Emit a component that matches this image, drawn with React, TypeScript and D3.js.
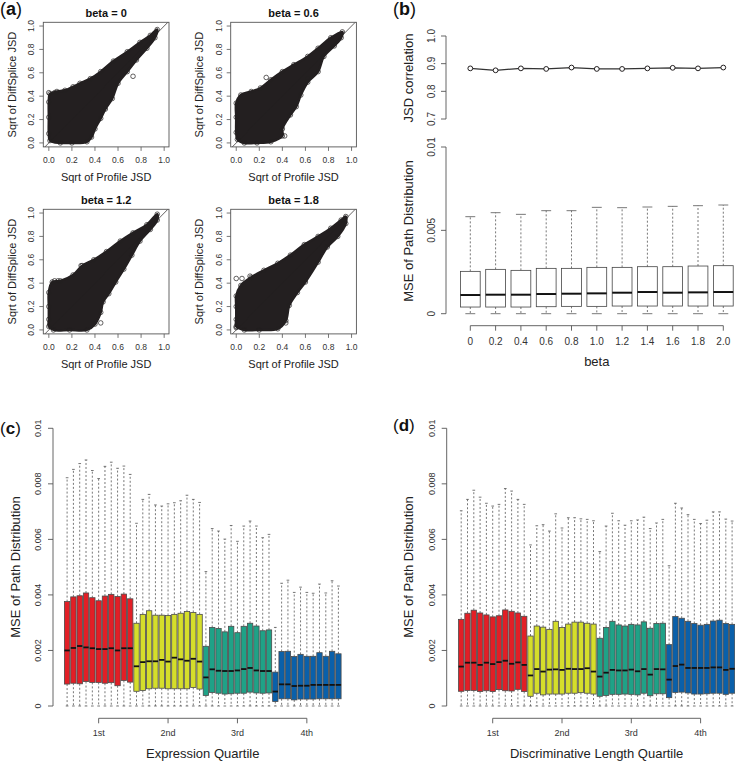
import React from "react";
import * as d3 from "d3";

const FONT = "'Liberation Sans', Arial, Helvetica, sans-serif";

// ---------- Panel (a): scatter envelopes (Sqrt Profile JSD, Sqrt DiffSplice JSD) ----------
const scatterTitles = ["beta = 0", "beta = 0.6", "beta = 1.2", "beta = 1.8"];
const hullBeta0: [number, number][] = [
  [0.0, 0.08], [0.0, 0.22], [0.0, 0.35], [0.01, 0.42], [0.07, 0.44], [0.14, 0.45], [0.21, 0.48], [0.27, 0.51],
  [0.36, 0.55], [0.45, 0.61], [0.56, 0.7], [0.68, 0.78], [0.79, 0.86], [0.88, 0.92], [0.94, 0.97],
  [0.92, 0.9], [0.85, 0.81], [0.76, 0.71], [0.68, 0.61], [0.6, 0.51], [0.55, 0.38], [0.49, 0.29],
  [0.45, 0.21], [0.4, 0.12], [0.37, 0.05], [0.33, 0.01], [0.2, 0.0], [0.1, 0.0], [0.01, 0.02],
];
const outliersBeta0: [number, number][] = [[0.73, 0.57], [0.0, 0.43], [0.05, 0.43]];
const hullBeta06: [number, number][] = [
  [0.0, 0.09], [0.0, 0.22], [0.0, 0.34], [0.04, 0.41], [0.13, 0.44], [0.21, 0.47], [0.3, 0.54], [0.4, 0.61],
  [0.5, 0.67], [0.62, 0.74], [0.71, 0.81], [0.82, 0.9], [0.92, 0.95], [0.91, 0.9], [0.85, 0.83],
  [0.76, 0.74], [0.71, 0.61], [0.62, 0.52], [0.56, 0.41], [0.52, 0.31], [0.47, 0.24], [0.4, 0.12],
  [0.4, 0.06], [0.3, 0.01], [0.18, 0.0], [0.07, 0.0], [0.01, 0.03],
];
const outliersBeta06: [number, number][] = [[0.42, 0.06], [0.26, 0.56], [0.62, 0.55]];
const hullBeta12: [number, number][] = [
  [0.0, 0.09], [0.0, 0.2], [0.0, 0.32], [0.03, 0.41], [0.1, 0.42], [0.21, 0.47], [0.29, 0.55], [0.39, 0.6],
  [0.5, 0.67], [0.62, 0.76], [0.73, 0.83], [0.85, 0.9], [0.94, 0.99], [0.94, 0.94], [0.88, 0.86],
  [0.79, 0.76], [0.72, 0.64], [0.65, 0.52], [0.58, 0.41], [0.52, 0.31], [0.47, 0.24], [0.45, 0.15],
  [0.4, 0.05], [0.33, 0.0], [0.18, 0.0], [0.04, 0.0], [0.0, 0.03],
];
const outliersBeta12: [number, number][] = [[0.45, 0.06], [0.28, 0.55], [0.05, 0.42], [0.08, 0.42]];
const hullBeta18: [number, number][] = [
  [0.0, 0.09], [0.0, 0.2], [0.0, 0.29], [0.04, 0.38], [0.13, 0.45], [0.24, 0.51], [0.36, 0.57], [0.47, 0.64],
  [0.59, 0.73], [0.71, 0.8], [0.82, 0.87], [0.91, 0.94], [0.95, 0.97], [0.95, 0.91], [0.88, 0.8],
  [0.79, 0.71], [0.71, 0.58], [0.6, 0.41], [0.53, 0.32], [0.46, 0.21], [0.43, 0.08], [0.36, 0.01],
  [0.2, 0.0], [0.07, 0.0], [0.0, 0.03],
];
const outliersBeta18: [number, number][] = [[0.0, 0.44], [0.12, 0.46], [0.05, 0.44], [0.0, 0.02], [0.43, 0.06]];
const scatterHulls = [hullBeta0, hullBeta06, hullBeta12, hullBeta18];
const scatterOutliers = [outliersBeta0, outliersBeta06, outliersBeta12, outliersBeta18];
const unitTicks = [0, 0.2, 0.4, 0.6, 0.8, 1.0];

// ---------- Panel (b) ----------
const betaLabels = ["0", "0.2", "0.4", "0.6", "0.8", "1.0", "1.2", "1.4", "1.6", "1.8", "2.0"];
const jsdCorrelation = [0.883, 0.876, 0.883, 0.881, 0.886, 0.881, 0.881, 0.883, 0.885, 0.883, 0.886];
const corrTicks = [0.7, 0.8, 0.9, 1.0];
const bWhiskerHigh = [0.00582, 0.00606, 0.00596, 0.00618, 0.00618, 0.00638, 0.00636, 0.0064, 0.00644, 0.00648, 0.00652];
const bQ3 = [0.00254, 0.00266, 0.0026, 0.00272, 0.00272, 0.00278, 0.00278, 0.00282, 0.00282, 0.00286, 0.00288];
const bMedian = [0.00112, 0.00114, 0.00114, 0.00118, 0.0012, 0.00122, 0.00126, 0.0013, 0.00126, 0.00128, 0.0013];
const bQ1 = [0.0004, 0.0004, 0.0004, 0.00042, 0.00044, 0.00044, 0.00046, 0.00046, 0.00046, 0.00046, 0.00046];
const bWhiskerLow = [0, 0, 0, 0, 0, 0, 0, 0, 0, 0, 0];
const mseTicksB = [0, 0.005, 0.01];
const mseTickLabelsB = ["0", "0.005", "0.01"];

// ---------- Panels (c) and (d) ----------
const quartileLabels = ["1st", "2nd", "3rd", "4th"];
const quartileColors = ["#e21f26", "#d5de2b", "#1fa287", "#0a60aa"];
const mseTicks = [0, 0.002, 0.004, 0.006, 0.008, 0.01];
const mseTickLabels = ["0", "0.002", "0.004", "0.006", "0.008", "0.01"];

const cWhiskerHigh = [
  0.00822, 0.00852, 0.00873, 0.00886, 0.00848, 0.00819, 0.00863, 0.00878, 0.00856, 0.00864, 0.00834,
  0.00658, 0.00744, 0.00762, 0.00724, 0.0072, 0.00728, 0.00732, 0.00739, 0.00759, 0.00744, 0.00733,
  0.00484, 0.00639, 0.0063, 0.00601, 0.0065, 0.00593, 0.00648, 0.00666, 0.00648, 0.00606, 0.00618,
  0.00283, 0.00442, 0.00453, 0.00409, 0.00428, 0.00409, 0.00406, 0.00439, 0.00407, 0.00451, 0.00432,
];
const cQ3 = [
  0.00376, 0.00393, 0.00397, 0.00407, 0.0039, 0.00379, 0.00396, 0.00402, 0.00394, 0.00403, 0.00386,
  0.00298, 0.0033, 0.00343, 0.00327, 0.00327, 0.00326, 0.0033, 0.00334, 0.0034, 0.00337, 0.0033,
  0.00215, 0.00283, 0.00279, 0.00267, 0.00287, 0.00264, 0.00287, 0.00298, 0.00288, 0.00271, 0.00274,
  0.00122, 0.00196, 0.00197, 0.00178, 0.00186, 0.00179, 0.00179, 0.00192, 0.00179, 0.00197, 0.00188,
];
const cMedian = [
  0.002, 0.00209, 0.00216, 0.00211, 0.00208, 0.00205, 0.00205, 0.00208, 0.002, 0.00208, 0.00208,
  0.00143, 0.00158, 0.00161, 0.00161, 0.00166, 0.0016, 0.00174, 0.00168, 0.00163, 0.0017, 0.0016,
  0.00103, 0.00132, 0.00127, 0.00126, 0.00126, 0.00128, 0.00133, 0.00137, 0.00128, 0.00126, 0.00126,
  0.00052, 0.00078, 0.00078, 0.00072, 0.00073, 0.00073, 0.00076, 0.00076, 0.00076, 0.00076, 0.00076,
];
const cQ1 = [
  0.00079, 0.00082, 0.0008, 0.00088, 0.00085, 0.00085, 0.00082, 0.00084, 0.00073, 0.00092, 0.00086,
  0.00053, 0.00056, 0.00062, 0.00064, 0.00064, 0.00062, 0.00062, 0.00062, 0.00062, 0.00067, 0.00061,
  0.00038, 0.00049, 0.00046, 0.00043, 0.00044, 0.00046, 0.00046, 0.0005, 0.00047, 0.00046, 0.00047,
  0.00016, 0.00026, 0.00026, 0.00022, 0.00025, 0.00025, 0.00025, 0.00026, 0.00026, 0.00026, 0.00026,
];

const dWhiskerHigh = [
  0.00703, 0.00744, 0.00777, 0.00752, 0.0073, 0.0072, 0.00726, 0.00783, 0.00774, 0.00744, 0.00726,
  0.0058, 0.00649, 0.00653, 0.0063, 0.00692, 0.00641, 0.00678, 0.00678, 0.00674, 0.00672, 0.00667,
  0.00556, 0.00648, 0.00694, 0.00667, 0.00651, 0.00667, 0.0067, 0.0068, 0.00639, 0.00659, 0.00672,
  0.00505, 0.0073, 0.00713, 0.00689, 0.00672, 0.00657, 0.00669, 0.00699, 0.00699, 0.00673, 0.00666,
];
const dQ3 = [
  0.00312, 0.00334, 0.00345, 0.00335, 0.00328, 0.00321, 0.00325, 0.00346, 0.00341, 0.00335, 0.00323,
  0.00252, 0.00288, 0.00284, 0.00276, 0.00305, 0.00283, 0.00295, 0.00302, 0.00302, 0.00298, 0.00295,
  0.00244, 0.00283, 0.00305, 0.00292, 0.00288, 0.00294, 0.00292, 0.00303, 0.0028, 0.00297, 0.00298,
  0.00221, 0.00322, 0.00316, 0.00305, 0.00297, 0.00291, 0.00294, 0.00306, 0.00309, 0.00297, 0.00294,
];
const dMedian = [
  0.00142, 0.00156, 0.00156, 0.00148, 0.00156, 0.00151, 0.00158, 0.00163, 0.00152, 0.00157, 0.00148,
  0.0011, 0.00133, 0.00124, 0.00131, 0.00132, 0.0013, 0.00134, 0.00133, 0.00133, 0.00136, 0.00124,
  0.00106, 0.0012, 0.0013, 0.00128, 0.00128, 0.00131, 0.00125, 0.00133, 0.00113, 0.00133, 0.00132,
  0.00095, 0.00144, 0.00149, 0.00137, 0.00137, 0.00137, 0.00137, 0.00139, 0.00139, 0.0013, 0.00134,
];
const dQ1 = [
  0.00053, 0.00056, 0.00056, 0.00052, 0.00055, 0.00052, 0.00059, 0.00055, 0.00054, 0.0006, 0.00052,
  0.00035, 0.00046, 0.0004, 0.00043, 0.00043, 0.00043, 0.00046, 0.00046, 0.00048, 0.00046, 0.00043,
  0.00035, 0.00038, 0.00042, 0.00042, 0.00043, 0.00042, 0.0004, 0.00046, 0.00037, 0.00044, 0.00044,
  0.0003, 0.00049, 0.0005, 0.00047, 0.00043, 0.00043, 0.00044, 0.00046, 0.00046, 0.00042, 0.00046,
];
const groupSize = 11;

const INK = "#231f20";
const AXIS = "#555";

type BoxProps = {
  xs: number[];
  hi: number[];
  q3: number[];
  med: number[];
  q1: number[];
  lo: number[];
  width: number;
  y: d3.ScaleLinear<number, number>;
  fills: string[];
  border: string;
  medianWidth: number;
};

function Boxes({ xs, hi, q3, med, q1, lo, width, y, fills, border, medianWidth }: BoxProps) {
  return (
    <g>
      {xs.map((cx, i) => {
        const half = width / 2;
        const cap = width / 4;
        return (
          <g key={i}>
            <line x1={cx} x2={cx} y1={y(q3[i])} y2={y(hi[i])} stroke={AXIS} strokeWidth={0.8} strokeDasharray="2,2" />
            <line x1={cx} x2={cx} y1={y(q1[i])} y2={y(lo[i])} stroke={AXIS} strokeWidth={0.8} strokeDasharray="2,2" />
            <line x1={cx - cap} x2={cx + cap} y1={y(hi[i])} y2={y(hi[i])} stroke={AXIS} strokeWidth={0.8} />
            <line x1={cx - cap} x2={cx + cap} y1={y(lo[i])} y2={y(lo[i])} stroke={AXIS} strokeWidth={0.8} />
            <rect x={cx - half} y={y(q3[i])} width={width} height={y(q1[i]) - y(q3[i])} fill={fills[i]} stroke={border} strokeWidth={0.8} />
            <line x1={cx - half} x2={cx + half} y1={y(med[i])} y2={y(med[i])} stroke="#111" strokeWidth={medianWidth} />
          </g>
        );
      })}
    </g>
  );
}

function YAxis({ x, y, ticks, labels, labelX, fontSize }: { x: number; y: d3.ScaleLinear<number, number>; ticks: number[]; labels: string[]; labelX: number; fontSize: number }) {
  const [a, b] = [y(ticks[0]), y(ticks[ticks.length - 1])];
  return (
    <g>
      <line x1={x} x2={x} y1={a} y2={b} stroke={AXIS} strokeWidth={0.9} />
      {ticks.map((t, i) => (
        <g key={i}>
          <line x1={x - 5} x2={x} y1={y(t)} y2={y(t)} stroke={AXIS} strokeWidth={0.9} />
          <text transform={`translate(${labelX},${y(t)}) rotate(-90)`} textAnchor="middle" dy="0.35em" fontSize={fontSize} fontFamily={FONT} fill="#333">
            {labels[i]}
          </text>
        </g>
      ))}
    </g>
  );
}

function VTitle({ x, y, text, size }: { x: number; y: number; text: string; size: number }) {
  return (
    <text transform={`translate(${x},${y}) rotate(-90)`} textAnchor="middle" dy="0.35em" fontSize={size} fontFamily={FONT} fill="#222">
      {text}
    </text>
  );
}

function Scatter({ fx, fy, idx }: { fx: number; fy: number; idx: number }) {
  const w = 125.7;
  const h = 124.6;
  const x = d3.scaleLinear().domain([-0.048, 1.042]).range([fx, fx + w]);
  const y = d3.scaleLinear().domain([-0.034, 1.032]).range([fy + h, fy]);
  const hull = scatterHulls[idx];
  const outl = scatterOutliers[idx];
  const path = d3
    .line<[number, number]>()
    .x((d) => x(d[0]))
    .y((d) => y(d[1]))
    .curve(d3.curveCatmullRomClosed.alpha(0.5))(hull) as string;
  const clipId = `clip${idx}`;
  return (
    <g>
      <defs>
        <clipPath id={clipId}>
          <rect x={fx} y={fy} width={w} height={h} />
        </clipPath>
      </defs>
      <g clipPath={`url(#${clipId})`}>
        <path d={path} fill={INK} stroke={INK} strokeWidth={2.5} strokeLinejoin="round" />
        {hull.concat(outl).map((p, i) => (
          <circle key={i} cx={x(p[0])} cy={y(p[1])} r={2.3} fill="none" stroke={INK} strokeWidth={0.7} />
        ))}
        <line x1={x(-0.1)} y1={y(-0.1)} x2={x(1.1)} y2={y(1.1)} stroke={INK} strokeWidth={0.7} />
      </g>
      <rect x={fx} y={fy} width={w} height={h} fill="none" stroke={AXIS} strokeWidth={0.9} />
      <text x={fx + w / 2} y={fy - 5} textAnchor="middle" fontSize={11} fontWeight="bold" fontFamily={FONT} fill="#111">
        {scatterTitles[idx]}
      </text>
      {unitTicks.map((t, i) => (
        <g key={i}>
          <line x1={x(t)} x2={x(t)} y1={fy + h} y2={fy + h + 4} stroke={AXIS} strokeWidth={0.8} />
          <text x={x(t)} y={fy + h + 16.5} textAnchor="middle" fontSize={8.5} fontFamily={FONT} fill="#333">
            {t.toFixed(1)}
          </text>
          <line x1={fx - 4} x2={fx} y1={y(t)} y2={y(t)} stroke={AXIS} strokeWidth={0.8} />
          <text transform={`translate(${fx - 12},${y(t)}) rotate(-90)`} textAnchor="middle" dy="0.35em" fontSize={8.5} fontFamily={FONT} fill="#333">
            {t.toFixed(1)}
          </text>
        </g>
      ))}
      <text x={fx + w / 2} y={fy + h + 34} textAnchor="middle" fontSize={11} fontFamily={FONT} fill="#222">
        Sqrt of Profile JSD
      </text>
      <VTitle x={fx - 31.5} y={fy + h / 2} text="Sqrt of DiffSplice JSD" size={11} />
    </g>
  );
}

function PanelLabel({ x, y, letter, size }: { x: number; y: number; letter: string; size: number }) {
  return (
    <text x={x} y={y} fontSize={size} fontFamily={FONT} fill="#111">
      (<tspan fontWeight="bold">{letter}</tspan>)
    </text>
  );
}

function PanelB() {
  const x = d3.scalePoint<string>().domain(betaLabels).range([470.3, 723.3]);
  const yCorr = d3.scaleLinear().domain([0.7, 1.0]).range([119, 36]);
  const yMse = d3.scaleLinear().domain([0, 0.01]).range([313.7, 147]);
  const line = d3
    .line<number>()
    .x((_, i) => x(betaLabels[i]) as number)
    .y((d) => yCorr(d))(jsdCorrelation) as string;
  const xs = betaLabels.map((b) => x(b) as number);
  return (
    <g>
      <YAxis x={446} y={yCorr} ticks={corrTicks} labels={corrTicks.map((t) => t.toFixed(1))} labelX={431} fontSize={10} />
      <path d={line} fill="none" stroke="#333" strokeWidth={1.3} />
      {jsdCorrelation.map((v, i) => (
        <circle key={i} cx={xs[i]} cy={yCorr(v)} r={2.4} fill="#fff" stroke={INK} strokeWidth={1} />
      ))}
      <VTitle x={408.3} y={78} text="JSD correlation" size={13} />

      <YAxis x={446} y={yMse} ticks={mseTicksB} labels={mseTickLabelsB} labelX={431} fontSize={10} />
      <Boxes xs={xs} hi={bWhiskerHigh} q3={bQ3} med={bMedian} q1={bQ1} lo={bWhiskerLow} width={19.8} y={yMse} fills={xs.map(() => "#fff")} border="#444" medianWidth={2} />
      <VTitle x={408.3} y={231} text="MSE of Path Distribution" size={13} />
      <line x1={xs[0]} x2={xs[xs.length - 1]} y1={325.7} y2={325.7} stroke={AXIS} strokeWidth={0.9} />
      {betaLabels.map((b, i) => (
        <g key={b}>
          <line x1={xs[i]} x2={xs[i]} y1={325.7} y2={330.7} stroke={AXIS} strokeWidth={0.9} />
          <text x={xs[i]} y={345.3} textAnchor="middle" fontSize={10} fontFamily={FONT} fill="#333">
            {b}
          </text>
        </g>
      ))}
      <text x={596.8} y={365.5} textAnchor="middle" fontSize={13} fontFamily={FONT} fill="#222">
        beta
      </text>
    </g>
  );
}

function QuartilePanel({ axisX, first, last, hi, q3, med, q1, title }: { axisX: number; first: number; last: number; hi: number[]; q3: number[]; med: number[]; q1: number[]; title: string }) {
  const y = d3.scaleLinear().domain([0, 0.01]).range([706, 428.3]);
  const idx = d3.range(1, hi.length + 1);
  const x = d3.scaleLinear().domain([1, hi.length]).range([first, last]);
  const xs = idx.map((i) => x(i));
  const fills = idx.map((i) => quartileColors[Math.floor((i - 1) / groupSize)]);
  const lo = hi.map(() => 0);
  const tickIdx = quartileLabels.map((_, g) => g * groupSize + 6);
  const slot = (last - first) / (hi.length - 1);
  return (
    <g>
      <YAxis x={axisX} y={y} ticks={mseTicks} labels={mseTickLabels} labelX={axisX - 15} fontSize={9} />
      <VTitle x={axisX - 38} y={567} text="MSE of Path Distribution" size={13} />
      <Boxes xs={xs} hi={hi} q3={q3} med={med} q1={q1} lo={lo} width={slot * 0.85} y={y} fills={fills} border="#4a4a4a" medianWidth={1.8} />
      <line x1={x(tickIdx[0])} x2={x(tickIdx[3])} y1={718.3} y2={718.3} stroke={AXIS} strokeWidth={0.9} />
      {tickIdx.map((t, i) => (
        <g key={i}>
          <line x1={x(t)} x2={x(t)} y1={718.3} y2={723.3} stroke={AXIS} strokeWidth={0.9} />
          <text x={x(t)} y={736.3} textAnchor="middle" fontSize={9} fontFamily={FONT} fill="#333">
            {quartileLabels[i]}
          </text>
        </g>
      ))}
      <text x={(first + last) / 2} y={757.8} textAnchor="middle" fontSize={13} fontFamily={FONT} fill="#222">
        {title}
      </text>
    </g>
  );
}

export default function App() {
  return (
    <div style={{ position: "absolute", left: 0, top: 0 }}>
      <svg width={735} height={761} style={{ display: "block", background: "#fff" }}>
        <rect width={735} height={761} fill="#fff" />
        <PanelLabel x={0} y={15} letter="a" size={18} />
        <PanelLabel x={393} y={15} letter="b" size={18} />
        <PanelLabel x={0} y={434} letter="c" size={17} />
        <PanelLabel x={393} y={431} letter="d" size={17} />
        <Scatter fx={43.3} fy={22.3} idx={0} />
        <Scatter fx={230.7} fy={22.3} idx={1} />
        <Scatter fx={43.3} fy={209.3} idx={2} />
        <Scatter fx={230.7} fy={209.3} idx={3} />
        <PanelB />
        <QuartilePanel axisX={53} first={67.1} last={338.4} hi={cWhiskerHigh} q3={cQ3} med={cMedian} q1={cQ1} title="Expression Quartile" />
        <QuartilePanel axisX={446.7} first={461.2} last={732.1} hi={dWhiskerHigh} q3={dQ3} med={dMedian} q1={dQ1} title="Discriminative Length Quartile" />
      </svg>
    </div>
  );
}
